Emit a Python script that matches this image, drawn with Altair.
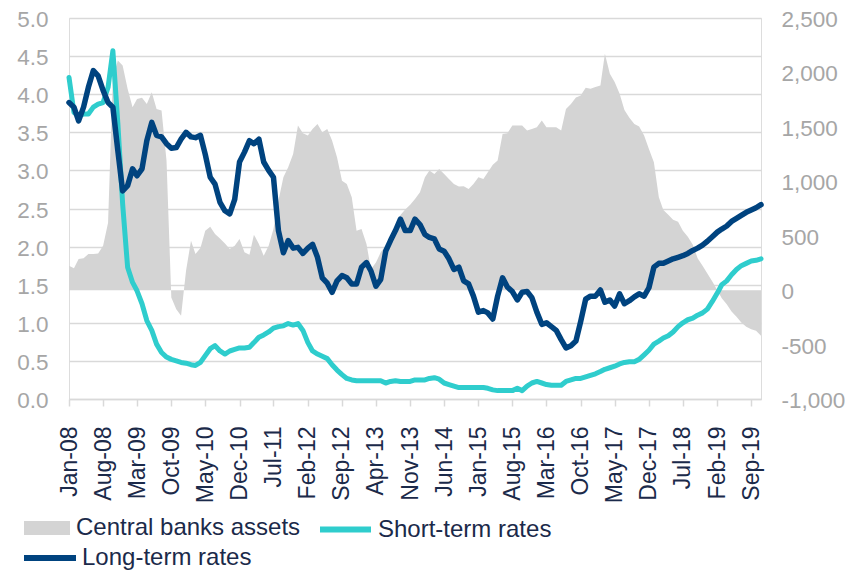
import altair as alt
import pandas as pd

# ---- data (monthly, Jan-08 .. Nov-19) ----
months = pd.date_range("2008-01-01", periods=143, freq="MS")

assets = [
    224, 202, 285, 294, 331, 331, 337, 408, 620, 1950, 2110, 2064,
    1849, 1681, 1757, 1767, 1711, 1819, 1665, 1650, 1190, -67, -175, -236,
    178, 454, 331, 386, 546, 583, 515, 475, 429, 377, 408, 469,
    347, 325, 509, 423, 316, 408, 561, 822, 1037, 1129, 1251, 1512,
    1441, 1420, 1481, 1527, 1451, 1481, 1374, 1221, 1006, 975, 853, 546,
    561, 423, 193, 255, 347, 408, 469, 577, 690, 740, 785, 837,
    899, 1037, 1098, 1067, 1113, 1067, 1021, 975, 951, 954, 929, 975,
    1037, 1021, 1083, 1153, 1190, 1435, 1441, 1512, 1512, 1512, 1466, 1481,
    1497, 1558, 1497, 1497, 1497, 1466, 1665, 1710, 1770, 1788, 1859, 1849,
    1865, 1880, 2171, 1987, 1911, 1803, 1656, 1583, 1527, 1503, 1420, 1297,
    1175, 853, 736, 693, 647, 629, 546, 491, 417, 294, 224, 153,
    80, 0, -74, -129, -196, -245, -297, -337, -359, -374, -420,
]

short_rates = [
    4.22, 3.76, 3.72, 3.74, 3.74, 3.83, 3.87, 3.89, 4.09, 4.57, 3.62, 2.56,
    1.73, 1.53, 1.42, 1.25, 1.03, 0.90, 0.72, 0.61, 0.55, 0.52, 0.50, 0.48,
    0.47, 0.45, 0.44, 0.48, 0.57, 0.66, 0.70, 0.63, 0.59, 0.63, 0.65, 0.67,
    0.67, 0.68, 0.74, 0.81, 0.84, 0.88, 0.93, 0.95, 0.96, 0.99, 0.97, 0.99,
    0.90, 0.74, 0.63, 0.59, 0.56, 0.53, 0.45, 0.38, 0.32, 0.27, 0.25, 0.24,
    0.24, 0.24, 0.24, 0.24, 0.24, 0.21, 0.23, 0.24, 0.23, 0.23, 0.23, 0.25,
    0.25, 0.25, 0.27, 0.28, 0.26, 0.21, 0.19, 0.17, 0.15, 0.15, 0.15, 0.15,
    0.15, 0.15, 0.14, 0.12, 0.11, 0.11, 0.11, 0.11, 0.14, 0.11, 0.17, 0.21,
    0.23, 0.21, 0.19, 0.18, 0.18, 0.18, 0.23, 0.25, 0.27, 0.27, 0.29, 0.31,
    0.33, 0.36, 0.39, 0.41, 0.43, 0.46, 0.48, 0.49, 0.49, 0.52, 0.58, 0.64,
    0.72, 0.76, 0.80, 0.83, 0.88, 0.95, 1.00, 1.04, 1.06, 1.10, 1.13, 1.18,
    1.28, 1.39, 1.50, 1.55, 1.63, 1.70, 1.75, 1.78, 1.81, 1.82, 1.84,
]

long_rates = [
    3.89, 3.83, 3.65, 3.83, 4.09, 4.31, 4.24, 4.05, 3.89, 3.83, 3.26, 2.73,
    2.80, 3.02, 2.93, 3.02, 3.39, 3.63, 3.46, 3.44, 3.35, 3.29, 3.30, 3.41,
    3.50, 3.44, 3.43, 3.46, 3.21, 2.91, 2.82, 2.58, 2.47, 2.43, 2.62, 3.11,
    3.24, 3.39, 3.35, 3.41, 3.11, 3.00, 2.91, 2.21, 1.92, 2.08, 1.98, 1.99,
    1.91, 1.98, 2.03, 1.86, 1.59, 1.52, 1.40, 1.55, 1.62, 1.59, 1.51, 1.51,
    1.73, 1.79, 1.68, 1.48, 1.57, 1.94, 2.08, 2.21, 2.36, 2.21, 2.21, 2.36,
    2.29, 2.16, 2.12, 2.10, 1.97, 1.94, 1.84, 1.70, 1.73, 1.55, 1.51, 1.35,
    1.14, 1.16, 1.13, 1.05, 1.35, 1.59, 1.47, 1.41, 1.30, 1.40, 1.41, 1.33,
    1.14, 0.98, 1.00, 0.95, 0.90, 0.78, 0.67, 0.70, 0.76, 1.02, 1.31, 1.35,
    1.35, 1.43, 1.27, 1.30, 1.22, 1.38, 1.25, 1.29, 1.34, 1.38, 1.35, 1.46,
    1.73, 1.78, 1.78, 1.81, 1.84, 1.86, 1.88, 1.91, 1.95, 1.98, 2.02, 2.07,
    2.13, 2.19, 2.23, 2.27, 2.33, 2.37, 2.41, 2.45, 2.48, 2.51, 2.55,
]

# x tick labels: every 7 months from Jan-08 (Jan-08, Aug-08, ..., Sep-19)
tick_dates = [(2008 + (7 * i) // 12, (7 * i) % 12 + 1) for i in range(21)]
left_ticks = [0.0, 0.5, 1.0, 1.5, 2.0, 2.5, 3.0, 3.5, 4.0, 4.5, 5.0]
right_ticks = [-1000, -500, 0, 500, 1000, 1500, 2000, 2500]

series_names = ["Central banks assets", "Short-term rates", "Long-term rates"]
colors = ["#D4D4D4", "#2FCDCD", "#00437F"]

df = pd.DataFrame({
    "date": months,
    "assets": assets,
    "short": short_rates,
    "long": long_rates,
})

FONT = "Liberation Sans"
TEXT = "#1B2A4A"
GREY_TXT = "#A6A6A6"
GRID = "#D9D9D9"

x_enc = alt.X(
    "date:T",
    title=None,
    scale=alt.Scale(
        domain=[alt.DateTime(year=2008, month=1, date=1),
                alt.DateTime(year=2019, month=11, date=1)],
        nice=False,
    ),
    axis=alt.Axis(
        values=[alt.DateTime(year=y, month=m, date=1) for y, m in tick_dates],
        format="%b-%y",
        labelAngle=270,
        labelFontSize=23,
        labelColor=TEXT,
        labelFont=FONT,
        labelPadding=20,
        labelOverlap=False,
        labelFlush=False,
        grid=False,
        domainColor=GRID,
        domainWidth=1.5,
        tickColor=GRID,
        tickWidth=1.5,
        tickSize=7,
    ),
)

left_axis = alt.Axis(
    orient="left",
    values=left_ticks,
    format=".1f",
    grid=True,
    gridColor=GRID,
    gridWidth=1.3,
    domain=False,
    ticks=False,
    labelFontSize=22.5,
    labelColor=GREY_TXT,
    labelFont=FONT,
    labelPadding=21,
    labelOffset=1.5,
)

legend_common = dict(
    orient="none",
    title=None,
    padding=0,
    labelFontSize=24,
    labelFont=FONT,
    labelColor=TEXT,
    labelLimit=400,
)

area = (
    alt.Chart(df)
    .transform_calculate(series="'Central banks assets'")
    .mark_area(color=colors[0], opacity=1)
    .encode(
        x=x_enc,
        y=alt.Y(
            "assets:Q",
            title=None,
            scale=alt.Scale(domain=[-1000, 2500], nice=False, zero=False),
            axis=alt.Axis(
                orient="right",
                values=right_ticks,
                format=",.0f",
                labelExpr="replace(datum.label, '\u2212', '-')",
                grid=False,
                domain=False,
                ticks=False,
                labelFontSize=22.5,
                labelColor=GREY_TXT,
                labelFont=FONT,
                labelPadding=20,
                labelOffset=1.5,
            ),
        ),
        y2=alt.datum(0),
        fill=alt.Fill(
            "series:N",
            scale=alt.Scale(domain=[series_names[0]], range=[colors[0]]),
            legend=alt.Legend(
                legendX=-45,
                legendY=487,
                symbolType="M-1,-0.3L1,-0.3L1,0.3L-1,0.3Z",
                symbolSize=2116,
                symbolStrokeWidth=0,
                labelOffset=6,
                **legend_common,
            ),
        ),
    )
)

short_line = (
    alt.Chart(df)
    .transform_calculate(series="'Short-term rates'")
    .mark_line(strokeWidth=5, strokeCap="round", strokeJoin="round")
    .encode(
        x=x_enc,
        y=alt.Y("short:Q", title=None,
                scale=alt.Scale(domain=[0, 5], nice=False), axis=left_axis),
        stroke=alt.Stroke(
            "series:N",
            scale=alt.Scale(domain=[series_names[1]], range=[colors[1]]),
            legend=alt.Legend(
                legendX=248,
                legendY=483,
                symbolType="stroke",
                symbolSize=2601,
                symbolStrokeWidth=6,
                labelOffset=4,
                **legend_common,
            ),
        ),
    )
)

long_line = (
    alt.Chart(df)
    .transform_calculate(series="'Long-term rates'")
    .mark_line(strokeWidth=5.5, strokeCap="round", strokeJoin="round")
    .encode(
        x=x_enc,
        y=alt.Y("long:Q", title=None,
                scale=alt.Scale(domain=[0, 5], nice=False), axis=left_axis),
        color=alt.Color(
            "series:N",
            scale=alt.Scale(domain=[series_names[2]], range=[colors[2]]),
            legend=alt.Legend(
                legendX=-48,
                legendY=511,
                symbolType="stroke",
                symbolSize=2704,
                symbolStrokeWidth=6,
                labelOffset=3,
                **legend_common,
            ),
        ),
    )
)

lines = alt.layer(short_line, long_line)

chart = (
    alt.layer(area, lines)
    .resolve_scale(y="independent")
    .properties(
        width=692,
        height=381,
        autosize=alt.AutoSizeParams(type="none"),
        padding={"left": 61, "top": 10, "right": 84, "bottom": 171},
    )
    .configure_view(strokeWidth=0)
    .configure(font=FONT)
)

chart.save("out.html", embed_options={"renderer": "svg", "actions": False})
